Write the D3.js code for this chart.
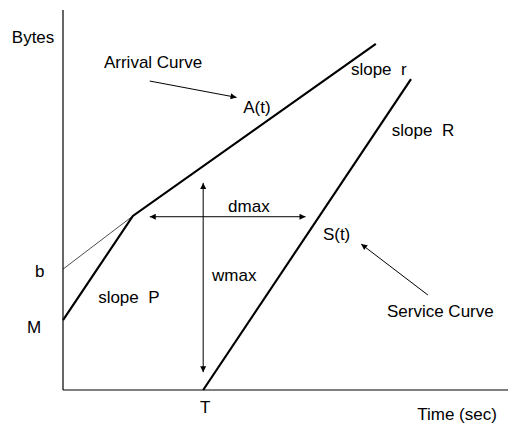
<!DOCTYPE html>
<html>
<head>
<meta charset="utf-8">
<script src="https://cdn.jsdelivr.net/npm/d3@7"></script>
<style>
  body { margin: 0; background: #fff; }
  text { font-family: "Liberation Sans", Arial, sans-serif; font-size: 17px; fill: #000; white-space: pre; }
</style>
</head>
<body>
<div id="chart"></div>
<script>
// data in abstract units: time 0..100, bytes 0..100
const arrivalCurve = [[0, 18.4], [15.7, 45.8], [70.3, 91.1]];
const burstLine = [[0, 31.8], [15.7, 45.8]];
const serviceCurve = [[31.5, 0], [78.2, 81.8]];

const dmaxArrow = [[19.5, 45.6], [54.5, 45.6]];
const wmaxArrow = [[31.5, 54.5], [31.5, 4.7]];
const pointerArrows = [
  [[19.5, 81.3], [39.0, 77.0]],   // Arrival Curve -> A(t)
  [[82.0, 25.0], [67.0, 38.4]]    // Service Curve -> S(t)
];

const labels = [
  { text: "Bytes", x: -11.5, y: 91.3 },
  { text: "Arrival Curve", x: 9.2, y: 84.7 },
  { text: "A(t)", x: 40.5, y: 72.9 },
  { text: "slope  r", x: 64.7, y: 82.9 },
  { text: "slope  R", x: 73.9, y: 66.8 },
  { text: "dmax", x: 37.1, y: 46.8 },
  { text: "S(t)", x: 58.4, y: 39.5 },
  { text: "wmax", x: 33.5, y: 28.7 },
  { text: "b", x: -6.3, y: 29.7 },
  { text: "slope  P", x: 7.9, y: 22.9 },
  { text: "M", x: -8.1, y: 15.0 },
  { text: "Service Curve", x: 72.8, y: 19.2 },
  { text: "T", x: 30.8, y: -6.1 },
  { text: "Time (sec)", x: 79.6, y: -7.9 }
];

const width = 508, height = 425;
const x = d3.scaleLinear().domain([0, 100]).range([63, 508]);
const y = d3.scaleLinear().domain([0, 100]).range([390, 10]);

const svg = d3.select("#chart").append("svg")
  .attr("width", width)
  .attr("height", height);

const defs = svg.append("defs");
defs.append("marker")
  .attr("id", "arrow")
  .attr("viewBox", "0 0 10 10")
  .attr("refX", 10).attr("refY", 5)
  .attr("markerWidth", 9).attr("markerHeight", 6)
  .attr("markerUnits", "userSpaceOnUse")
  .attr("orient", "auto-start-reverse")
  .append("path")
  .attr("d", "M0,0L10,5L0,10Z")
  .attr("fill", "#000");

// axes
svg.append("line")
  .attr("x1", x(0)).attr("x2", x(0))
  .attr("y1", y(100)).attr("y2", y(0))
  .attr("stroke", "#000").attr("stroke-width", 1.2);
svg.append("line")
  .attr("x1", x(0)).attr("x2", x(100))
  .attr("y1", y(0)).attr("y2", y(0))
  .attr("stroke", "#000").attr("stroke-width", 1.2);

const line = d3.line().x(d => x(d[0])).y(d => y(d[1]));

svg.append("path").datum(burstLine)
  .attr("d", line).attr("fill", "none")
  .attr("stroke", "#000").attr("stroke-width", 0.7);

svg.append("path").datum(arrivalCurve)
  .attr("d", line).attr("fill", "none")
  .attr("stroke", "#000").attr("stroke-width", 2.2)
  .attr("stroke-linejoin", "miter");

svg.append("path").datum(serviceCurve)
  .attr("d", line).attr("fill", "none")
  .attr("stroke", "#000").attr("stroke-width", 2.2);

// double-headed arrows
[dmaxArrow, wmaxArrow].forEach(a => {
  svg.append("path").datum(a)
    .attr("d", line).attr("fill", "none")
    .attr("stroke", "#000").attr("stroke-width", 1)
    .attr("marker-start", "url(#arrow)")
    .attr("marker-end", "url(#arrow)");
});

pointerArrows.forEach(a => {
  svg.append("path").datum(a)
    .attr("d", line).attr("fill", "none")
    .attr("stroke", "#000").attr("stroke-width", 1)
    .attr("marker-end", "url(#arrow)");
});

svg.selectAll("text.lbl")
  .data(labels)
  .enter()
  .append("text")
  .attr("class", "lbl")
  .attr("xml:space", "preserve")
  .attr("x", d => x(d.x))
  .attr("y", d => y(d.y))
  .text(d => d.text);
</script>
</body>
</html>
